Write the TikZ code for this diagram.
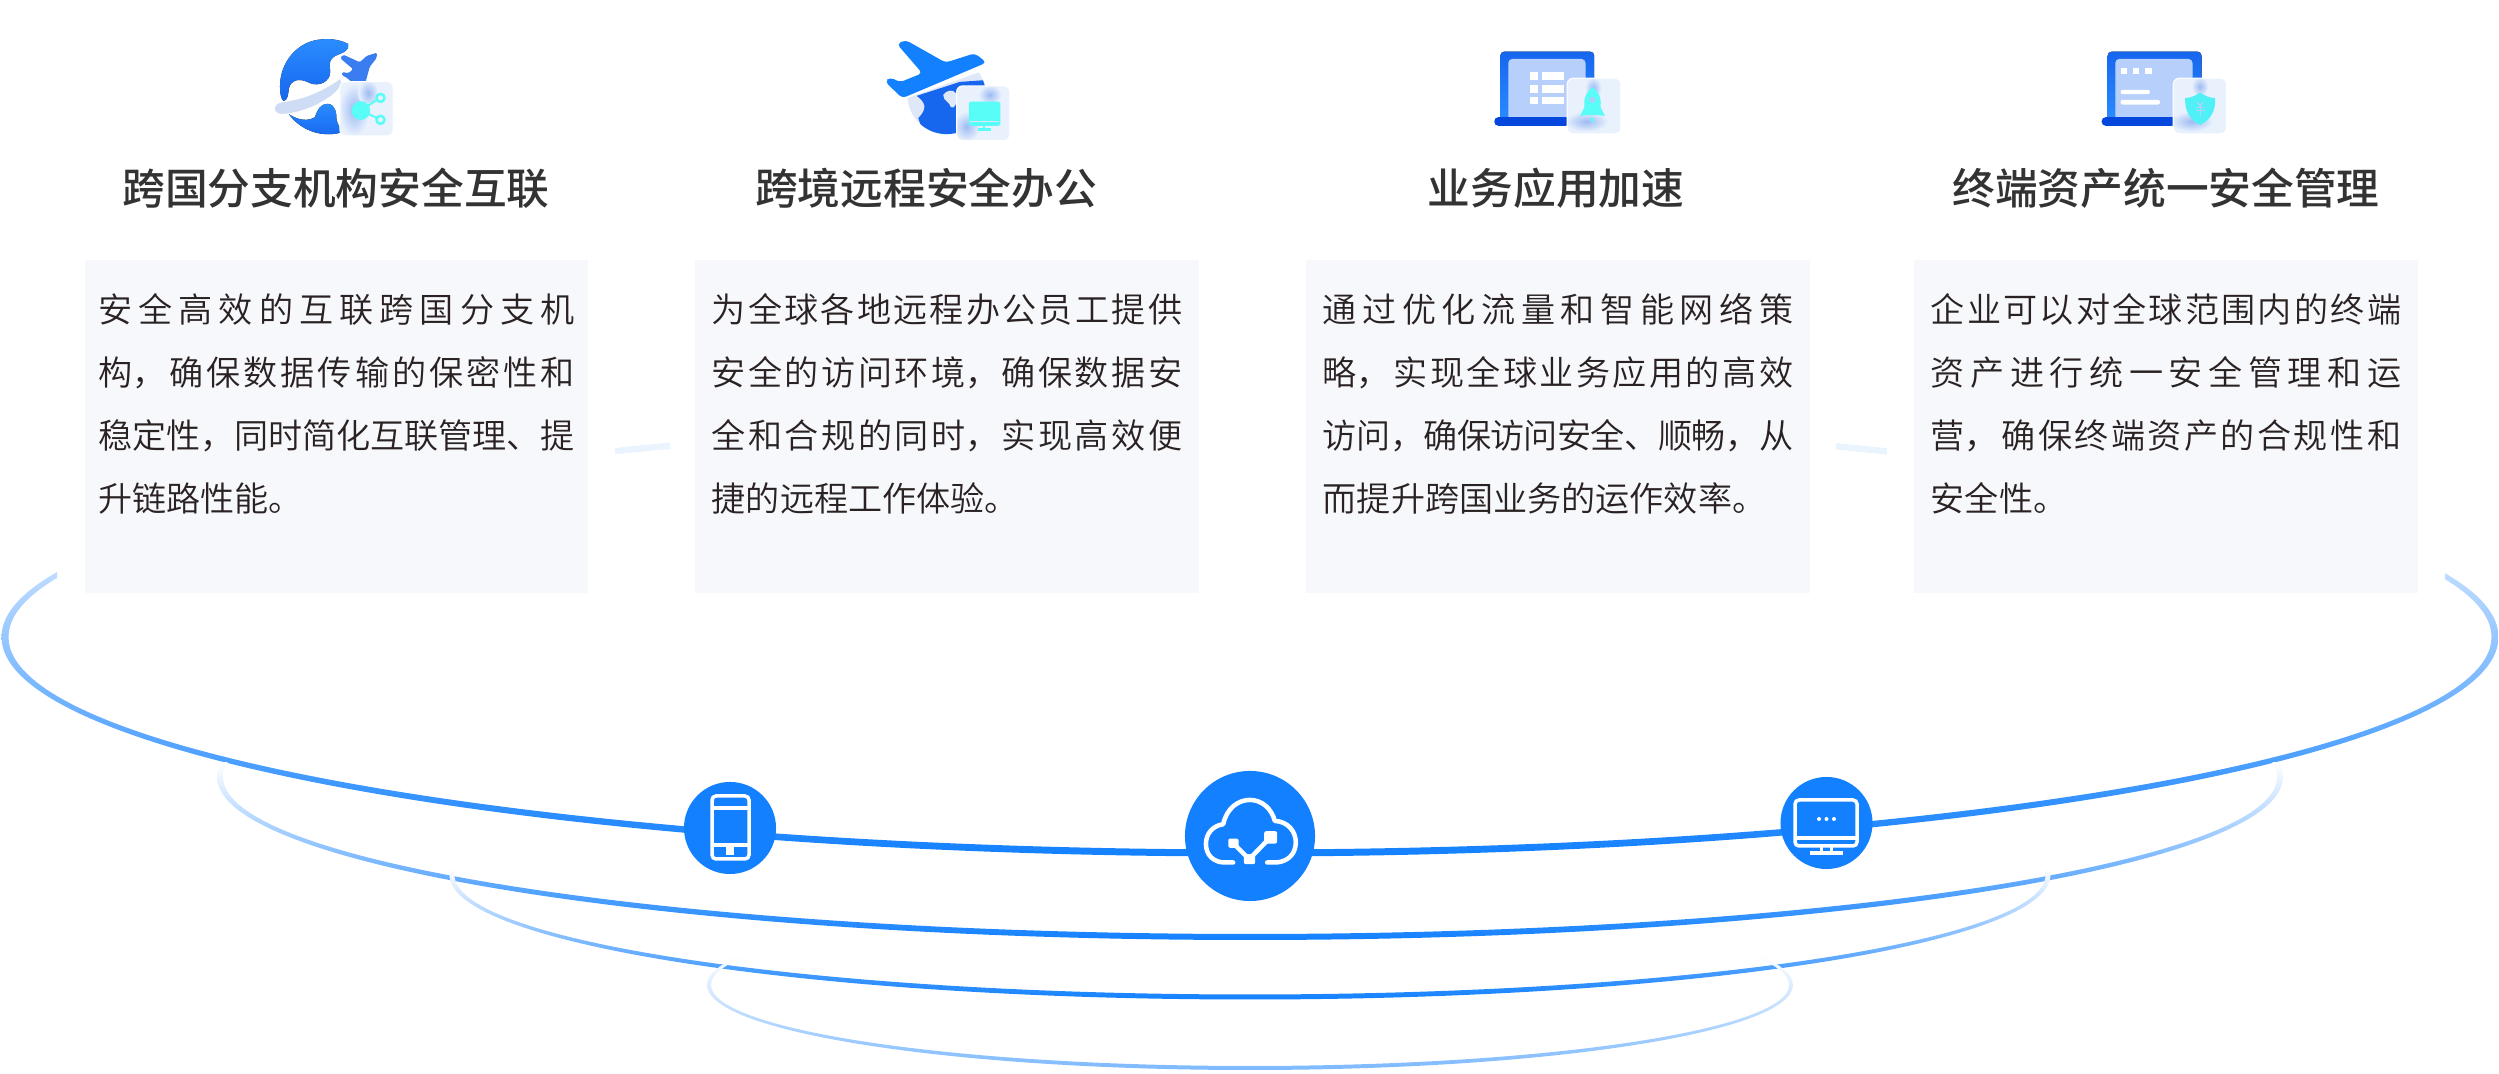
\documentclass[tikz,border=0pt]{standalone}
\usepackage{fontspec}
\usepackage{tikz}
\newfontfamily\cjkbody{Noto Sans CJK SC DemiLight}
\newfontfamily\cjkhead{Noto Sans CJK SC Medium}
\XeTeXlinebreaklocale "zh"
\XeTeXlinebreakskip=0pt plus 10pt minus 0.4pt
\definecolor{hubblue}{HTML}{1280FF}
\definecolor{panelgray}{HTML}{F6F8FB}
\definecolor{bodyink}{HTML}{2A2222}
\definecolor{headink}{HTML}{333333}
\definecolor{cardbg}{HTML}{E9F1FD}
\definecolor{blurblue}{HTML}{9DBBF2}
\definecolor{tealmark}{HTML}{57FDF6}
\definecolor{screenpale}{HTML}{B7D0FB}
\definecolor{basedark}{HTML}{0547DD}
\definecolor{lidtop}{HTML}{1666EE}
\definecolor{lidmid}{HTML}{2A8CFF}
\definecolor{landpale}{HTML}{DFE8F8}
\definecolor{swoosh}{HTML}{CFDCF5}
\definecolor{ringpale}{HTML}{C2DEFF}
\tikzset{
  panel/.style={fill=panelgray, minimum width=5.03cm, minimum height=3.33cm, inner sep=0pt},
  desc/.style={text width=4.7cm, inner sep=0pt, align=justify, anchor=north, text=bodyink,
    font=\cjkbody\fontsize{9.7}{17.9}\selectfont},
  headline/.style={inner sep=0pt, text=headink, font=\cjkhead\fontsize{12.15}{14}\selectfont},
  hubdot/.style={circle, fill=hubblue, inner sep=0pt},
  zoomunit/.style={x=0.003333cm, y=-0.003333cm},
  card/.style={rounded corners=0.06cm},
  whiteline/.style={draw=white, line width=0.045cm, line cap=round, line join=round},
}
\begin{document}
\begin{tikzpicture}[x=0.01cm, y=-0.01cm]
	\useasboundingbox (0,0) rectangle (2499,1074);

	% bowl rings
	\begin{scope}[even odd rule]
	  \clip (1250,637) ellipse [x radius=1248.5, y radius=219.5] (1250,637) ellipse [x radius=1241.5, y radius=212.5];
	  \begin{scope}
	    \clip (0,560) -- (57,560) -- (57,637) -- (2445,637) -- (2445,560) -- (2499,560) -- (2499,860) -- (0,860) -- cycle;
	    \shade[top color=ringpale, middle color=hubblue!80!white, bottom color=hubblue] (0,566) rectangle (2499,857);
	  \end{scope}
	  \fill[hubblue!9] (615,430) rectangle (670,470);
	  \fill[hubblue!9] (1836,430) rectangle (1887,470);
	\end{scope}
	\begin{scope}[even odd rule]
	  \clip (1250,777) ellipse [x radius=1033, y radius=163] (1250,777) ellipse [x radius=1027, y radius=157];
	  \shade[top color=white, middle color=hubblue!15!white, bottom color=hubblue] (0,763) rectangle (2499,940);
	\end{scope}
	\begin{scope}[even odd rule]
	  \clip (1250,875) ellipse [x radius=800.5, y radius=124.5] (1250,875) ellipse [x radius=795.5, y radius=119.5];
	  \shade[top color=white, middle color=hubblue!28!white, bottom color=hubblue] (0,868) rectangle (2499,1000);
	\end{scope}
	\begin{scope}[even odd rule]
	  \clip (1250,985) ellipse [x radius=543, y radius=85] (1250,985) ellipse [x radius=539, y radius=81];
	  \shade[top color=white, middle color=hubblue!25!white, bottom color=hubblue!55!white] (0,955) rectangle (2499,1070);
	\end{scope}

	% hubs on the ring
	\node[hubdot, minimum size=0.92cm] (phonehub) at (730,828) {};
	\node[hubdot, minimum size=1.3cm] (cloudhub) at (1250,836) {};
	\node[hubdot, minimum size=0.92cm] (screenhub) at (1826.5,823) {};

	\draw[white, line width=0.035cm, rounded corners=0.04cm] (712,796) rectangle (749,859);
	\draw[white, line width=0.035cm] (712,808) -- (749,808);
	\draw[white, line width=0.035cm] (712,845) -- (749,845);
	\fill[white] (726,847) rectangle (734,855);

	\begin{scope}[shift={(1170,760)}, zoomunit]
	  \draw[whiteline] (190,308) -- (165,308) .. controls (130,308) and (108,285) .. (108,252) .. controls (108,220) and (130,197) .. (160,193) .. controls (170,145) and (205,120) .. (240,120) .. controls (275,120) and (305,145) .. (315,183) .. controls (355,185) and (378,215) .. (378,248) .. controls (378,285) and (350,308) .. (315,308) -- (292,308);
	  \draw[whiteline] (190,250) -- (238,298) -- (302,232);
	  \fill[white, rounded corners=0.02cm] (175,236) rectangle (206,264);
	  \fill[white, rounded corners=0.02cm] (283,214) rectangle (322,251);
	  \fill[white, rounded corners=0.02cm] (222,283) rectangle (256,313);
	\end{scope}

	\draw[white, line width=0.035cm, rounded corners=0.04cm] (1795,800) rectangle (1857,846);
	\draw[white, line width=0.035cm] (1795,838) -- (1857,838);
	\foreach \dotx in {1819,1826.5,1834}
	  \fill[white] (\dotx,819) circle (2);
	\fill[white] (1820,847) rectangle (1823,852);
	\fill[white] (1830,847) rectangle (1833,852);
	\fill[white] (1810,851) rectangle (1843,855);

	% panels
	\node[panel] (panelA) at (336.5,426.5) {};
	\node[panel] (panelB) at (947,426.5) {};
	\node[panel] (panelC) at (1558,426.5) {};
	\node[panel] (panelD) at (2166,426.5) {};

	\node[desc, text width=4.76cm] (descA) at ([yshift=-0.335cm]panelA.north) {安全高效的互联跨国分支机\linebreak 构，确保数据传输的保密性和\linebreak 稳定性，同时简化互联管理、提\linebreak 升链路性能。};
	\node[desc] (descB) at ([yshift=-0.335cm]panelB.north) {为全球各地远程办公员工提供\linebreak 安全的访问环境，确保数据安\linebreak 全和合规的同时，实现高效便\linebreak 捷的远程工作体验。};
	\node[desc] (descC) at ([yshift=-0.335cm]panelC.north) {通过优化流量和智能网络策\linebreak 略，实现全球业务应用的高效\linebreak 访问，确保访问安全、顺畅，从\linebreak 而提升跨国业务的运作效率。};
	\node[desc] (descD) at ([yshift=-0.335cm]panelD.north) {企业可以对全球范围内的终端\linebreak 资产进行统一安全管理和运\linebreak 营，确保终端资产的合规性和\linebreak 安全性。};

	% headlines
	\node[headline] (headA) at (336,188) {跨国分支机构安全互联};
	\node[headline] (headB) at (926,188) {跨境远程安全办公};
	\node[headline] (headC) at (1556,188) {业务应用加速};
	\node[headline] (headD) at (2166,188) {终端资产统一安全管理};

	% globe icon
	\begin{scope}[shift={(265,30)}, zoomunit]
	  \fill[top color=lidmid, bottom color=lidtop] (250,42) .. controls (225,28) and (190,26) .. (175,28) .. controls (100,30) and (45,95) .. (45,170) .. controls (45,190) and (48,205) .. (55,213) .. controls (68,215) and (70,190) .. (72,175) .. controls (78,150) and (100,145) .. (125,155) .. controls (150,170) and (185,165) .. (195,135) .. controls (200,115) and (185,100) .. (205,82) .. controls (220,70) and (255,68) .. (250,42) -- cycle;
	  \fill[top color=lidmid, bottom color=lidtop] (72,253) .. controls (100,272) and (130,275) .. (150,262) .. controls (158,240) and (165,222) .. (190,222) .. controls (212,225) and (215,250) .. (215,270) .. controls (218,285) and (228,295) .. (228,308) .. controls (170,325) and (105,300) .. (72,253) -- cycle;
	  \fill[lidtop!85!white, rounded corners=0.015cm] (337,68) -- (305,78) -- (285,97) -- (235,74) -- (226,85) -- (265,118) -- (250,130) -- (232,126) -- (230,135) -- (248,145) -- (258,155) -- (300,165) -- (315,110) -- (335,85) -- cycle;
	  \fill[swoosh] (30,232) .. controls (35,215) and (60,218) .. (100,208) .. controls (150,195) and (195,170) .. (225,148) .. controls (235,155) and (225,175) .. (205,192) .. controls (160,228) and (100,250) .. (50,252) .. controls (38,252) and (28,245) .. (30,232) -- cycle;
	  \begin{scope}
	    \clip[card] (225,155) rectangle (385,318);
	    \fill[cardbg] (225,155) rectangle (385,318);
	    \shade[inner color=blurblue, outer color=cardbg] (268,240) ellipse [x radius=45, y radius=80];
	    \shade[inner color=blurblue, outer color=cardbg] (310,190) ellipse [x radius=30, y radius=40];
	  \end{scope}
	  \draw[white, card, line width=0.01cm] (225,155) rectangle (385,318);
	  \draw[tealmark, line width=0.02cm] (288,242) -- (336,210);
	  \draw[tealmark, line width=0.02cm] (288,242) -- (336,264);
	  \fill[tealmark] (288,242) circle (28);
	  \draw[tealmark, fill=cardbg, line width=0.025cm] (347,204) circle (12);
	  \draw[tealmark, fill=cardbg, line width=0.025cm] (347,270) circle (12);
	\end{scope}

	% plane icon
	\begin{scope}[shift={(875,30)}, zoomunit]
	  \begin{scope}
	    \clip (97,205) -- (318,125) -- (400,200) -- (300,340) -- (100,340) -- cycle;
	    \fill[landpale] (215,195) circle (118);
	    \clip (215,195) circle (118);
	    \fill[lidtop] (125,198) .. controls (150,215) and (160,235) .. (130,265) -- (150,320) -- (340,320) -- (340,150) -- (255,156) -- cycle;
	    \fill[landpale] (205,195) .. controls (215,180) and (235,178) .. (243,190) .. controls (250,215) and (240,240) .. (228,232) .. controls (225,215) and (205,215) .. (205,195) -- cycle;
	  \end{scope}
	  \fill[hubblue, rounded corners=0.04cm] (66,42) -- (92,30) -- (212,98) -- (300,70) -- (335,98) -- (82,205) -- (30,155) -- (45,142) -- (75,157) -- (142,130) -- cycle;
	  \begin{scope}
	    \clip[card] (245,168) rectangle (405,332);
	    \fill[cardbg] (245,168) rectangle (405,332);
	    \shade[inner color=blurblue, outer color=cardbg] (275,290) ellipse [x radius=40, y radius=45];
	    \shade[inner color=blurblue, outer color=cardbg] (345,195) ellipse [x radius=35, y radius=30];
	  \end{scope}
	  \draw[white, card, line width=0.01cm] (245,168) rectangle (405,332);
	  \fill[tealmark, rounded corners=0.025cm] (282,215) rectangle (377,288);
	  \fill[landpale] (286,272) rectangle (373,277);
	  \fill[tealmark] (324,288) rectangle (332,298);
	  \fill[tealmark] (308,296) rectangle (350,303);
	\end{scope}

	% rocket icon
	\begin{scope}[shift={(1485,30)}, zoomunit]
	  \fill[top color=lidtop, bottom color=lidmid, rounded corners=0.04cm] (46,65) rectangle (328,275);
	  \fill[screenpale, rounded corners=0.04cm] (70,87) rectangle (302,275);
	  \fill[basedark, rounded corners=0.04cm] (28,262) rectangle (255,288);
	  \foreach \rowy in {127,165,200} {
	    \fill[white] (135,\rowy) rectangle +(23,23);
	    \fill[white] (170,\rowy) rectangle +(68,23);
	  }
	  \begin{scope}
	    \clip[card] (247,145) rectangle (408,312);
	    \fill[cardbg] (247,145) rectangle (408,312);
	    \shade[inner color=blurblue, outer color=cardbg] (305,275) ellipse [x radius=65, y radius=30];
	    \shade[inner color=blurblue, outer color=cardbg] (325,175) ellipse [x radius=25, y radius=35];
	  \end{scope}
	  \draw[white, card, line width=0.01cm] (247,145) rectangle (408,312);
	  \fill[tealmark] (323,172) .. controls (347,190) and (350,215) .. (347,232) -- (360,258) -- (342,256) -- (304,256) -- (286,258) -- (299,232) .. controls (296,215) and (299,190) .. (323,172) -- cycle;
	  \fill[screenpale!80!blurblue] (323,210) circle (9);
	  \fill[tealmark] (317,264) -- (329,264) -- (323,282) -- cycle;
	\end{scope}

	% shield icon
	\begin{scope}[shift={(2090,30)}, zoomunit]
	  \fill[top color=lidtop, bottom color=lidmid, rounded corners=0.04cm] (53,65) rectangle (335,275);
	  \fill[screenpale, rounded corners=0.04cm] (76,87) rectangle (308,275);
	  \fill[basedark, rounded corners=0.04cm] (35,262) rectangle (260,288);
	  \foreach \boxx in {92,128,165}
	    \fill[white] (\boxx,113) rectangle +(20,20);
	  \fill[white, rounded corners=0.02cm] (92,180) rectangle (180,193);
	  \fill[white, rounded corners=0.02cm] (92,210) rectangle (210,224);
	  \begin{scope}
	    \clip[card] (250,145) rectangle (410,312);
	    \fill[cardbg] (250,145) rectangle (410,312);
	    \shade[inner color=blurblue, outer color=cardbg] (305,275) ellipse [x radius=65, y radius=30];
	    \shade[inner color=blurblue, outer color=cardbg] (330,170) ellipse [x radius=25, y radius=30];
	  \end{scope}
	  \draw[white, card, line width=0.01cm] (250,145) rectangle (410,312);
	  \fill[tealmark!90!hubblue] (331,188) .. controls (345,198) and (360,204) .. (376,205) .. controls (378,245) and (360,272) .. (331,285) .. controls (302,272) and (284,245) .. (286,205) .. controls (302,204) and (317,198) .. (331,188) -- cycle;
	  \draw[screenpale, line width=0.012cm] (322,216) -- (331,228) -- (340,216);
	  \draw[screenpale, line width=0.012cm] (331,228) -- (331,258);
	  \draw[screenpale, line width=0.012cm] (318,232) -- (344,232);
	  \draw[screenpale, line width=0.012cm] (318,242) -- (344,242);
	\end{scope}
\end{tikzpicture}
\end{document}
